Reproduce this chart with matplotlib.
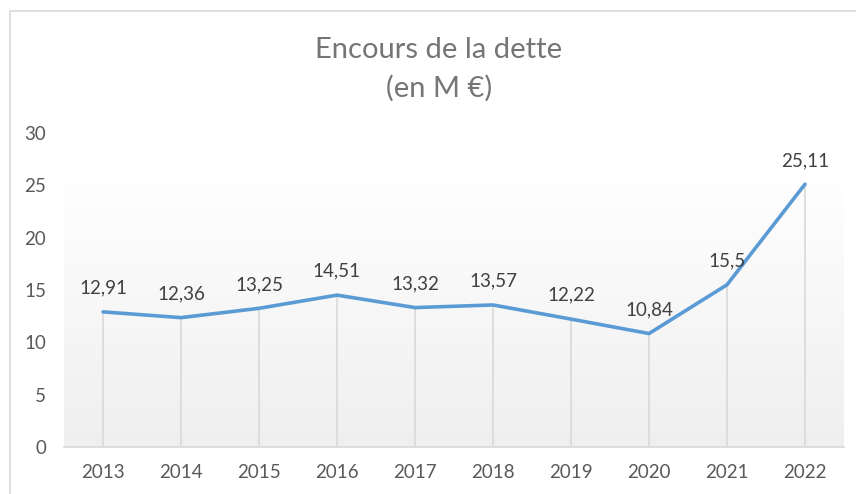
import numpy as np
import matplotlib.pyplot as plt
from matplotlib.patches import Rectangle

years = ['2013', '2014', '2015', '2016', '2017', '2018', '2019', '2020', '2021', '2022']
encours = [12.91, 12.36, 13.25, 14.51, 13.32, 13.57, 12.22, 10.84, 15.5, 25.11]
labels = ['12,91', '12,36', '13,25', '14,51', '13,32', '13,57', '12,22', '10,84', '15,5', '25,11']

plt.rcParams['font.family'] = ['Lato', 'DejaVu Sans']

fig = plt.figure(figsize=(8.56, 4.94), dpi=100)
ax = fig.add_axes([64 / 856, 1 - 447 / 494, 780 / 856, 314 / 494])

# chart border (only left and top visible in the crop)
fig.patches.append(Rectangle((10 / 856, -0.1), 1.2, 1 - 11 / 494 + 0.1,
                             transform=fig.transFigure, fill=False,
                             edgecolor='#d9d9d9', linewidth=1.2))

# soft gradient in the plot area
grad = np.linspace(1, 0, 256).reshape(-1, 1)
grad = np.clip(grad * 1.15, 0, 1)
ax.imshow(np.dstack([0.937 + 0.063 * grad] * 3), extent=[0, 1, 0, 1],
          transform=ax.transAxes, aspect='auto', zorder=0)

x = np.arange(len(years))
ax.vlines(x, 0, encours, color='#d9d9d9', linewidth=1.2, zorder=1)
ax.plot(x, encours, color='#5b9bd5', linewidth=2.6, solid_capstyle='round',
        solid_joinstyle='round', zorder=3)

for xi, v, lab in zip(x, encours, labels):
    ax.annotate(lab, (xi, v), xytext=(0, 11), textcoords='offset points',
                ha='center', va='bottom', fontsize=13.5, color='#404040')

ax.set_xlim(-0.5, len(years) - 0.5)
ax.set_ylim(0, 30)
ax.set_yticks(range(0, 31, 5))
ax.set_xticks(x)
ax.set_xticklabels(years)
ax.tick_params(length=0, labelsize=13.5, colors='#595959')
ax.tick_params(axis='y', pad=13)
ax.tick_params(axis='x', pad=12)
for s in ['top', 'right', 'left']:
    ax.spines[s].set_visible(False)
ax.spines['bottom'].set_color('#d9d9d9')
ax.spines['bottom'].set_linewidth(1.2)

fig.text(439 / 856, 1 - 50 / 494, 'Encours de la dette', ha='center', va='center',
         fontsize=21, color='#757575')
fig.text(439 / 856, 1 - 88 / 494, '(en M €)', ha='center', va='center',
         fontsize=21, color='#757575')

fig.savefig('out.png', dpi=100)
